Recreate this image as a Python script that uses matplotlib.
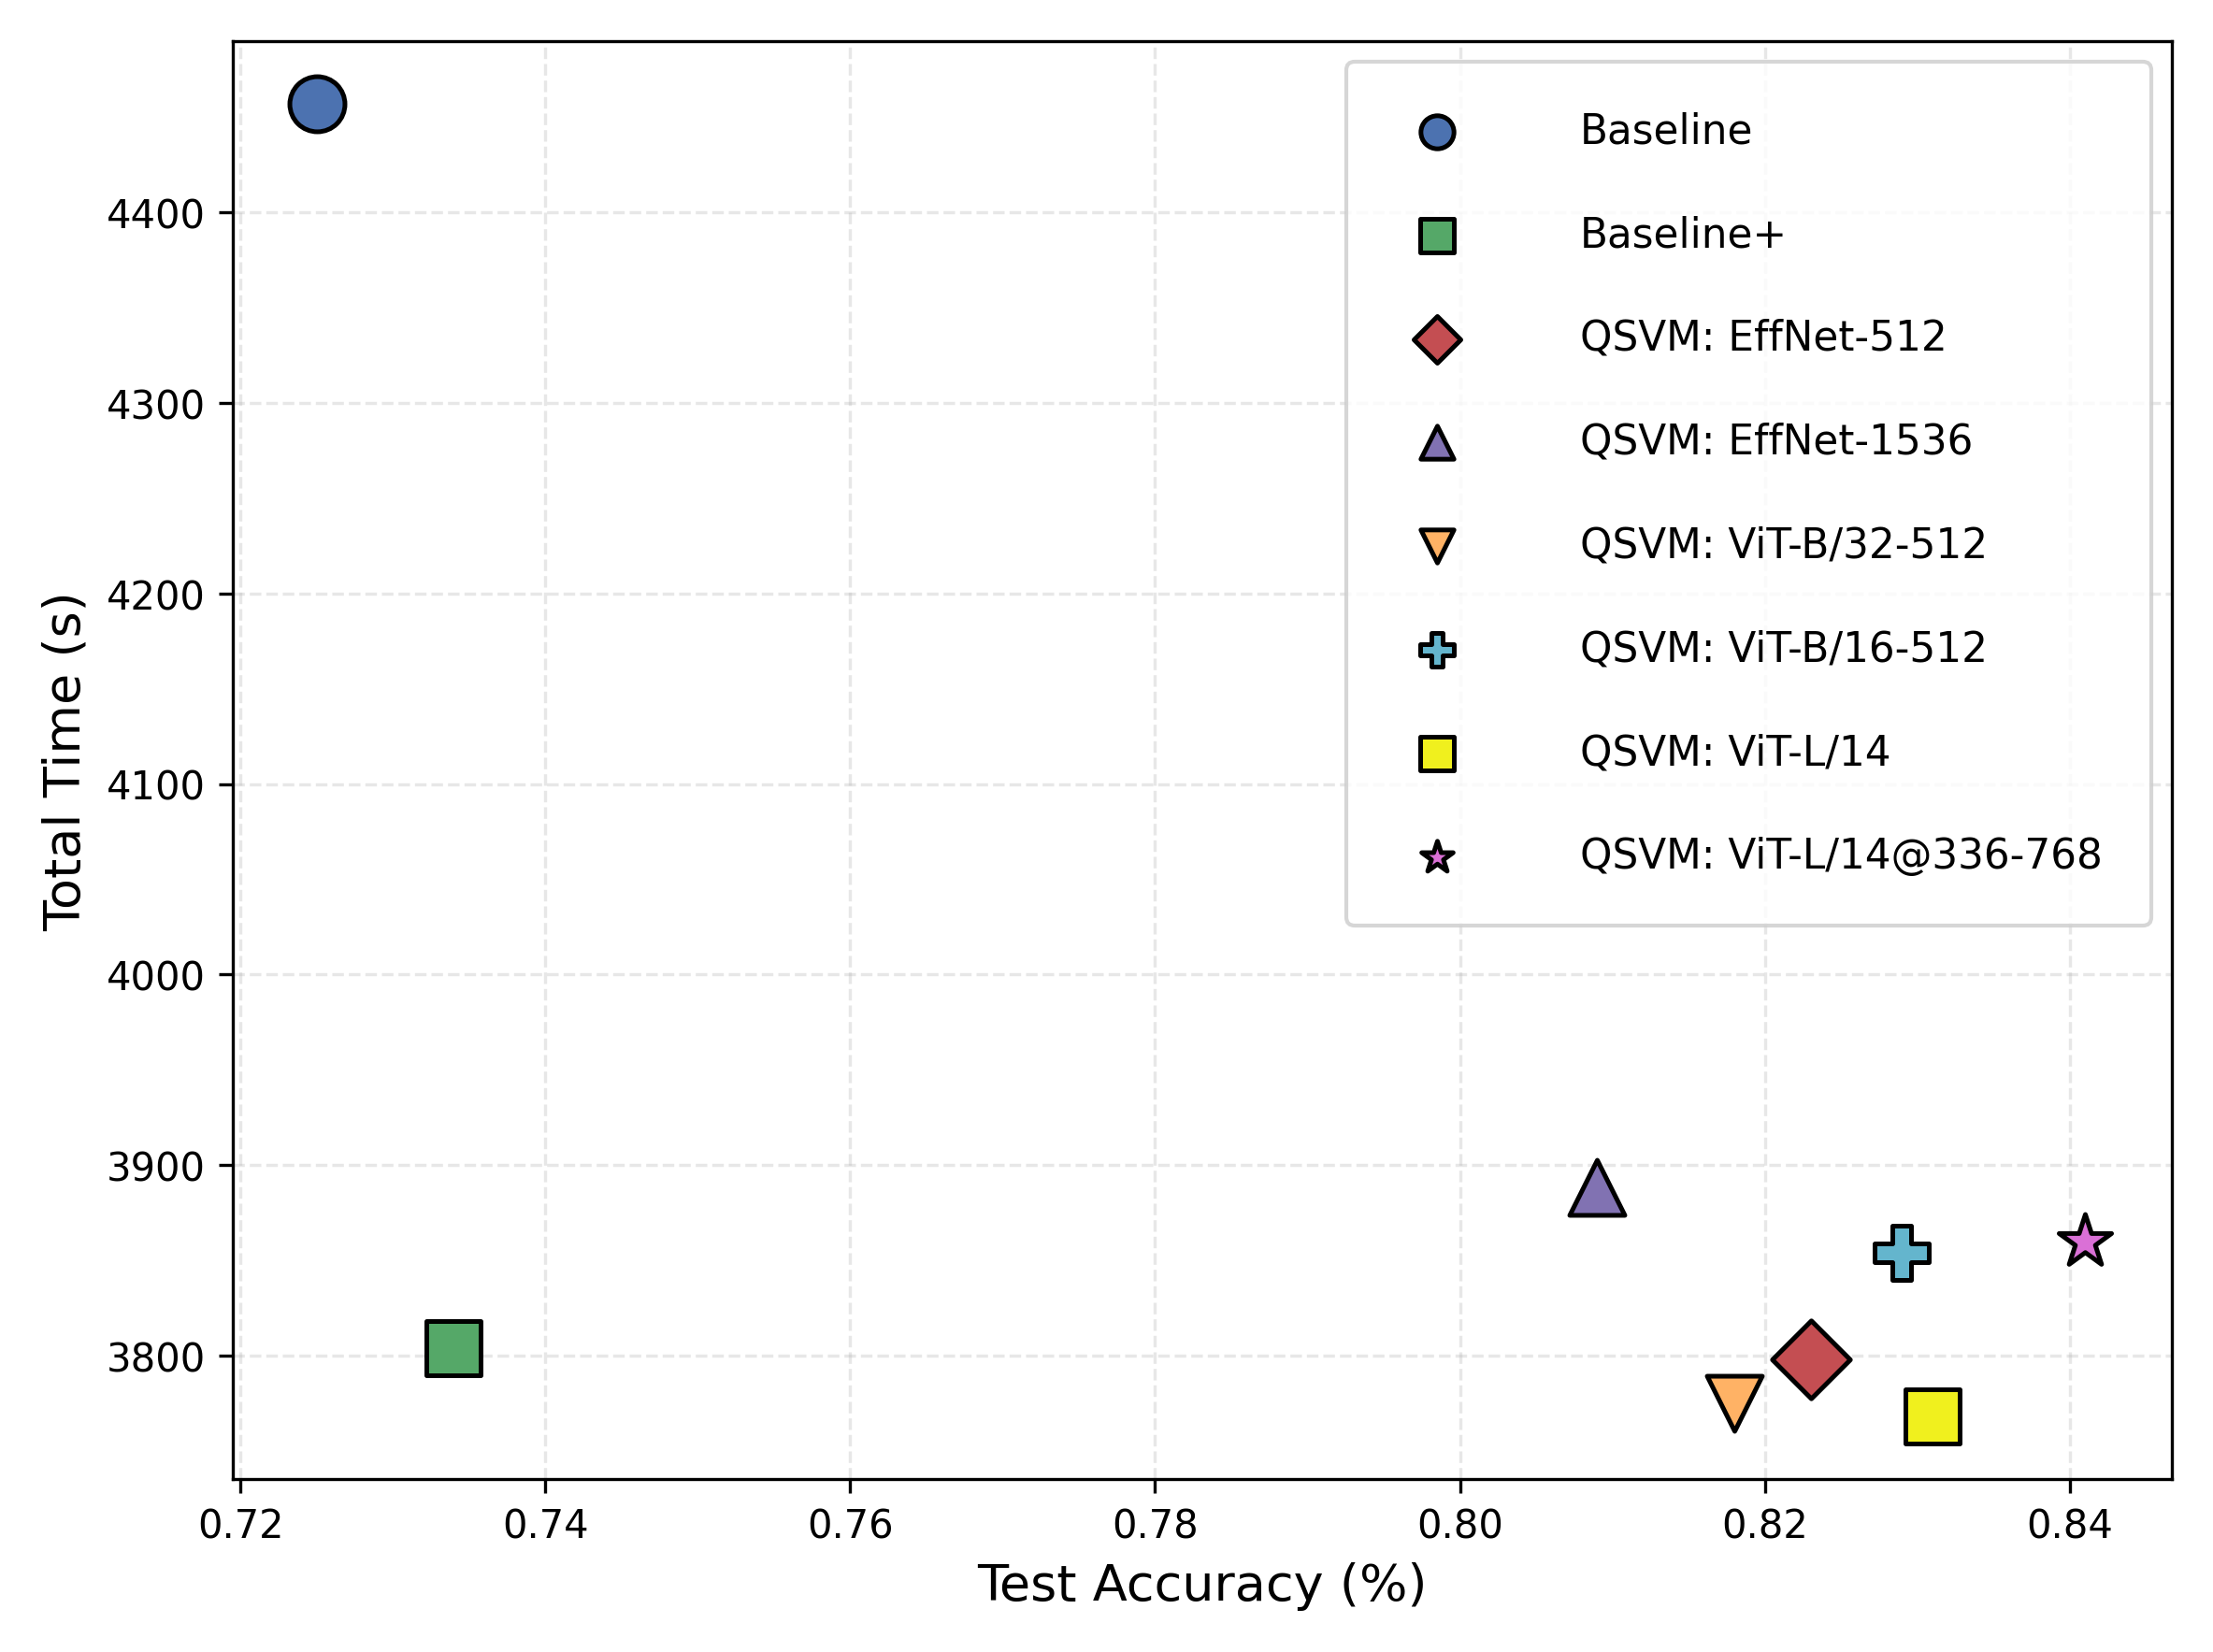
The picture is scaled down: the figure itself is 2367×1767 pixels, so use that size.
import matplotlib
matplotlib.use("Agg")
import matplotlib.pyplot as plt

labels = ["Baseline", "Baseline+", "QSVM: EffNet-512", "QSVM: EffNet-1536",
          "QSVM: ViT-B/32-512", "QSVM: ViT-B/16-512", "QSVM: ViT-L/14",
          "QSVM: ViT-L/14@336-768"]
accuracy = [0.725, 0.734, 0.823, 0.809, 0.818, 0.829, 0.831, 0.841]
total_time = [4457, 3804, 3798, 3888, 3775, 3854, 3768, 3860]
markers = ["o", "s", "D", "^", "v", "P", "s", "*"]
colors = ["#4C72B0", "#55A868", "#C44E52", "#8172B2", "#FFB265",
          "#64B5CD", "#F0F01E", "#DA70D6"]

fig, ax = plt.subplots(figsize=(7.893, 5.893), dpi=300)
for x, y, m, c, lab in zip(accuracy, total_time, markers, colors, labels):
    ax.scatter(x, y, marker=m, s=200, c=c, edgecolors="black", linewidths=1.2,
               label=lab, zorder=3)

ax.set_xlim(0.7195, 0.8467)
ax.set_ylim(3735, 4490)
ax.set_xlabel("Test Accuracy (%)", fontsize=13)
ax.set_ylabel("Total Time (s)", fontsize=13)
ax.grid(True, linestyle="--", alpha=0.3)

leg = ax.legend(loc="upper right", fontsize=10.5, labelspacing=1.55,
                handletextpad=2.5, borderpad=1.2, markerscale=0.6)

fig.tight_layout()
fig.savefig("out.png", dpi=300)
